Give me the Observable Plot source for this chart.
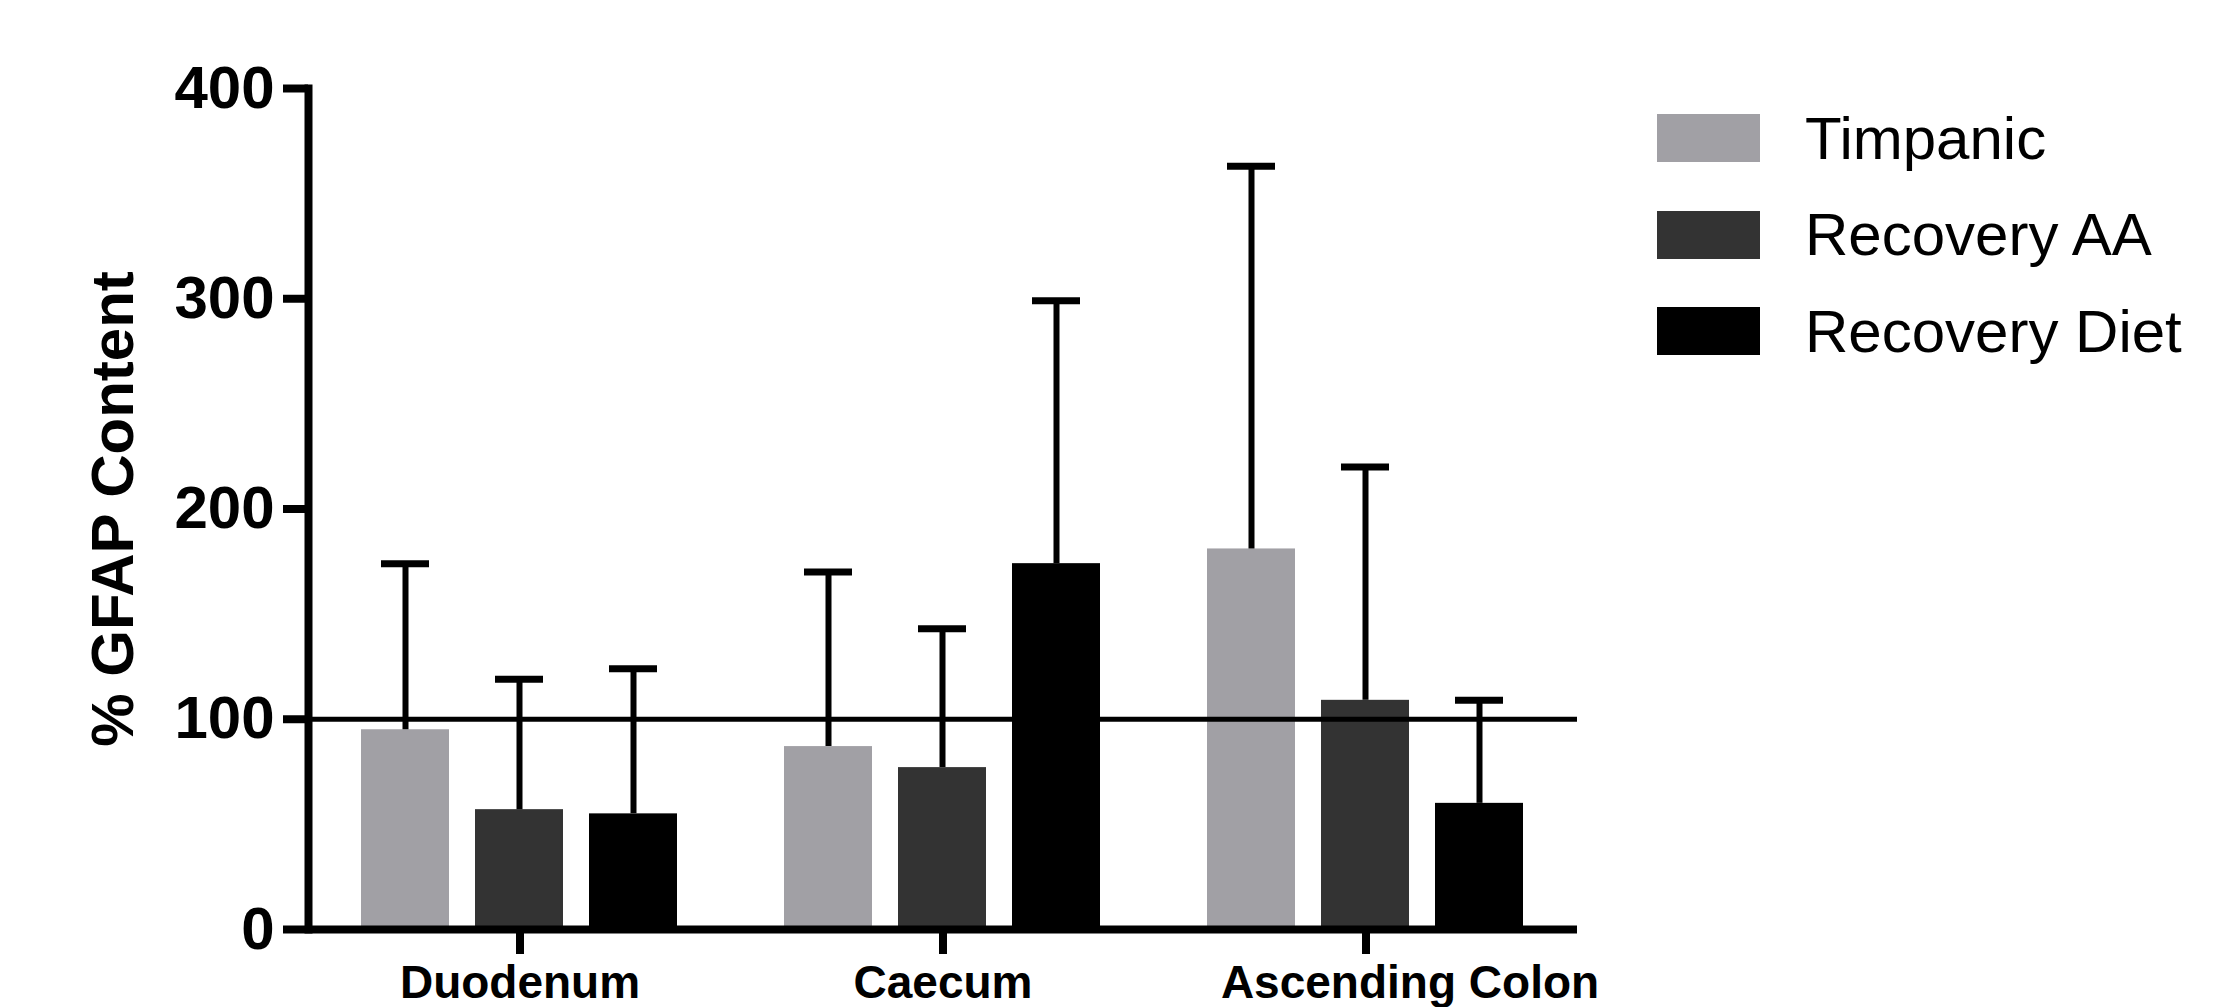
<!DOCTYPE html>
<html><head><meta charset="utf-8">
<script src="https://cdn.jsdelivr.net/npm/d3@7"></script>
<script src="https://cdn.jsdelivr.net/npm/@observablehq/plot@0.6"></script>
<style>
html,body{margin:0;padding:0;background:#fff;}
#wrap{position:relative;width:2239px;height:1007px;overflow:hidden;background:#fff;}
#legend{position:absolute;left:1657px;top:90px;}
.lg-swatches{font-family:"Liberation Sans",Arial,sans-serif !important;font-size:60px !important;margin:0 !important;color:#000;}
.lg-swatch{height:96.5px;display:flex;align-items:center;padding:0 !important;margin:0;}
.lg-swatch svg{margin-right:45px !important;}
</style>
</head><body><div id="wrap"><div id="chart"></div><div id="legend"></div></div>
<script>
const regions = ["Duodenum", "Caecum", "Ascending Colon"];
const series = ["Timpanic", "Recovery AA", "Recovery Diet"];
const seriesColors = ["#a1a0a5", "#333333", "#000000"];
const timpanicMean = [95, 87, 181];
const timpanicSem = [79, 83, 182];
const recoveryAAMean = [57, 77, 109];
const recoveryAASem = [62, 66, 111];
const recoveryDietMean = [55, 174, 60];
const recoveryDietSem = [69, 125, 49];
const yTicks = [0, 100, 200, 300, 400];
const referenceLevel = [100];

const means = [timpanicMean, recoveryAAMean, recoveryDietMean];
const sems = [timpanicSem, recoveryAASem, recoveryDietSem];
const table = [];
regions.forEach((r, i) => series.forEach((s, j) => table.push({region: r, series: s, mean: means[j][i], sem: sems[j][i]})));

const chart = Plot.plot({
  width: 2239, height: 1007,
  marginLeft: 307, marginRight: 661, marginTop: 88, marginBottom: 78,
  style: {fontFamily: "'Liberation Sans', Arial, sans-serif", background: "#fff", color: "#000"},
  fx: {domain: regions, padding: 0},
  x: {domain: series, paddingInner: 0.224, paddingOuter: 0.458, axis: null},
  y: {domain: [0, 400]},
  color: {domain: series, range: seriesColors},
  marks: [
    Plot.barY(table, {fx: "region", x: "series", y: "mean", fill: "series"}),
    Plot.ruleY(referenceLevel, {stroke: "#000", strokeWidth: 5}),
    Plot.ruleX(table, {fx: "region", x: "series", y1: "mean", y2: d => d.mean + d.sem, stroke: "#000", strokeWidth: 6}),
    Plot.tickY(table, {fx: "region", x: "series", y: d => d.mean + d.sem, stroke: "#000", strokeWidth: 7, insetLeft: 20, insetRight: 20}),
    Plot.ruleY([0], {stroke: "#000", strokeWidth: 8}),
    Plot.frame({anchor: "left", facetAnchor: "left", stroke: "#000", strokeWidth: 8}),
    Plot.axisY({ticks: yTicks, tickSize: 25, tickPadding: 9, strokeWidth: 8, fontSize: 60, fontWeight: "bold", label: "% GFAP Content", labelAnchor: "center", labelOffset: 218, labelArrow: "none"}),
    Plot.axisFx({anchor: "bottom", ticks: regions, tickSize: 25, tickPadding: 11, strokeWidth: 8, fontSize: 46, fontWeight: "bold", label: null, tickFormat: d => d === regions[2] ? "" : d}),
    Plot.axisFx({anchor: "bottom", ticks: [regions[2]], tickSize: 0, tickPadding: 36, dx: 44, fontSize: 46, fontWeight: "bold", label: null})
  ]
});
document.getElementById("chart").appendChild(chart);

const legend = Plot.legend({
  color: {domain: series, range: seriesColors},
  legend: "swatches",
  columns: 1,
  swatchWidth: 103,
  swatchHeight: 48,
  className: "lg"
});
document.getElementById("legend").appendChild(legend);
</script></body></html>
